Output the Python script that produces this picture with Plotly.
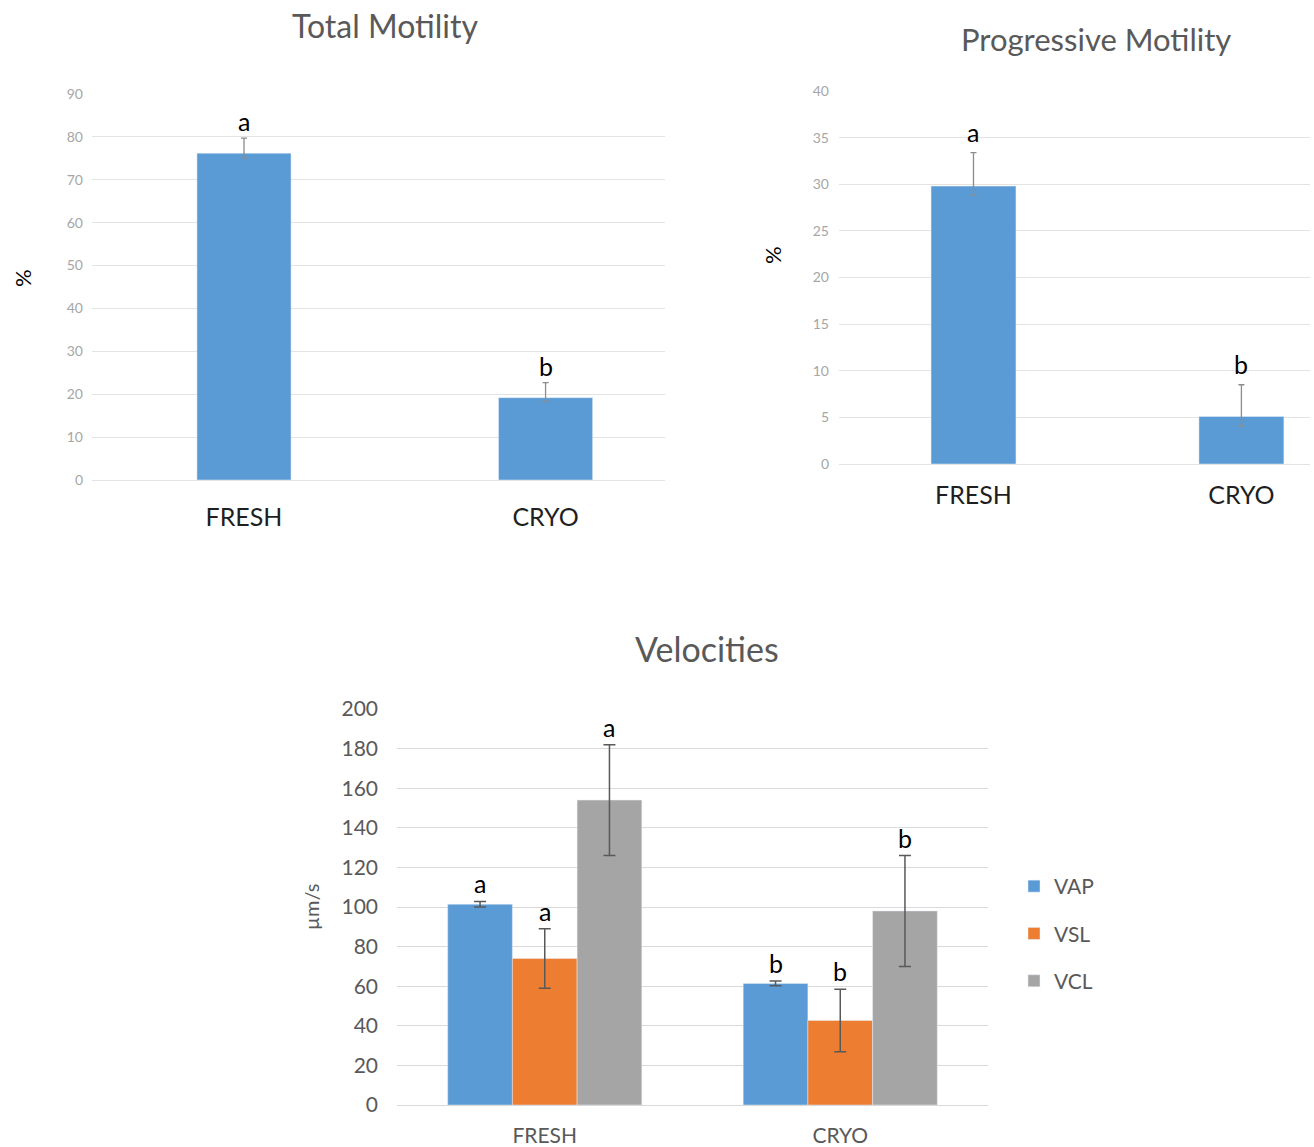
import plotly.graph_objects as go

W, H = 1314, 1147

# ---- data -------------------------------------------------------------
categories = ["FRESH", "CRYO"]

total_motility = [76.2, 19.2]
total_err_plus = [3.5, 3.5]
total_err_minus = [1.1, 0.8]
total_letters = ["a", "b"]

prog_motility = [29.8, 5.1]
prog_err_plus = [3.6, 3.4]
prog_err_minus = [1.0, 1.0]
prog_letters = ["a", "b"]

velocity_series = ["VAP", "VSL", "VCL"]
vap = [101.4, 61.4]
vsl = [74.0, 42.7]
vcl = [154.0, 98.0]
vap_err = [1.4, 1.2]
vsl_err = [15.0, 15.8]
vcl_err = [28.0, 28.0]
vap_letters = ["a", "b"]
vsl_letters = ["a", "b"]
vcl_letters = ["a", "b"]

# ---- styles -----------------------------------------------------------
FONT = "Lato"
BLUE, ORANGE, GREY = "#5B9BD5", "#ED7D31", "#A5A5A5"
TITLE_GREY = "#595959"
BAR_GAP = 0.343


def px_x(p):
    return p / W


def px_y(p):
    return 1 - p / H


fig = go.Figure()

# Total motility (top left)
fig.add_trace(go.Bar(
    x=categories, y=total_motility, width=0.312, marker_color=BLUE,
    xaxis="x", yaxis="y", showlegend=False,
    error_y=dict(type="data", symmetric=False, array=total_err_plus,
                 arrayminus=total_err_minus, color="#8c8c8c",
                 thickness=1.3, width=3),
))

# Progressive motility (top right)
fig.add_trace(go.Bar(
    x=categories, y=prog_motility, width=0.317, marker_color=BLUE,
    xaxis="x2", yaxis="y2", showlegend=False,
    error_y=dict(type="data", symmetric=False, array=prog_err_plus,
                 arrayminus=prog_err_minus, color="#8c8c8c",
                 thickness=1.3, width=3),
))

# Velocities (bottom, grouped)
vel_values = [vap, vsl, vcl]
vel_errors = [vap_err, vsl_err, vcl_err]
vel_letters = [vap_letters, vsl_letters, vcl_letters]
vel_colors = [BLUE, ORANGE, GREY]
for name, vals, errs, col in zip(velocity_series, vel_values, vel_errors, vel_colors):
    fig.add_trace(go.Bar(
        x=categories, y=vals, name=name, marker_color=col,
        xaxis="x3", yaxis="y3", legendgroup=name,
        error_y=dict(type="data", array=errs, color="#595959",
                     thickness=1.5, width=6),
    ))

# ---- significance letters --------------------------------------------
annotations = []


def letter(x, y, text, xref, yref, shift):
    annotations.append(dict(
        x=x, y=y, text=text, xref=xref, yref=yref, showarrow=False,
        yanchor="bottom", yshift=shift,
        font=dict(family=FONT, size=25, color="#000000"),
    ))


for i, cat in enumerate(categories):
    letter(i, total_motility[i] + total_err_plus[i], total_letters[i], "x", "y", 0)
    letter(i, prog_motility[i] + prog_err_plus[i], prog_letters[i], "x2", "y2", 4)

bar_w = (1 - BAR_GAP) / len(velocity_series)
for s, (vals, errs, lets) in enumerate(zip(vel_values, vel_errors, vel_letters)):
    for i in range(len(categories)):
        letter(i + (s - 1) * bar_w, vals[i] + errs[i], lets[i], "x3", "y3", 1)

# ---- titles -----------------------------------------------------------
for text, cx, cy, size in [("Total Motility", 385, 25, 32),
                           ("Progressive Motility", 1096, 39, 31),
                           ("Velocities", 707, 648, 34)]:
    annotations.append(dict(
        x=px_x(cx), y=px_y(cy), xref="paper", yref="paper", text=text,
        showarrow=False, xanchor="center", yanchor="middle",
        font=dict(family=FONT, size=size, color=TITLE_GREY),
    ))

# y-axis titles
for text, cx, cy, size, col in [("%", 22, 278, 22, "#000000"),
                                ("%", 773, 255, 22, "#000000"),
                                ("µm/s", 311, 907, 20, TITLE_GREY)]:
    annotations.append(dict(
        x=px_x(cx), y=px_y(cy), xref="paper", yref="paper", text=text,
        showarrow=False, xanchor="center", yanchor="middle", textangle=-90,
        font=dict(family=FONT, size=size, color=col),
    ))

grid_top = dict(showgrid=True, gridcolor="#e3e3e3", gridwidth=1,
                zeroline=True, zerolinecolor="#e3e3e3", zerolinewidth=1,
                showline=False, ticks="", automargin=False,
                tickfont=dict(family=FONT, size=14, color="#a6a6a6"))

fig.update_layout(
    width=W, height=H,
    margin=dict(l=0, r=0, t=0, b=0, pad=0, autoexpand=False),
    paper_bgcolor="white", plot_bgcolor="white",
    font=dict(family=FONT),
    barmode="group", bargap=BAR_GAP, bargroupgap=0,
    xaxis=dict(domain=[px_x(92), px_x(665)], anchor="y", type="category",
               range=[-0.504, 1.396], showgrid=False, zeroline=False,
               ticks="", ticklabelstandoff=20, automargin=False,
               tickfont=dict(family=FONT, size=25, color="#1f1f1f")),
    yaxis=dict(domain=[px_y(480), px_y(94)], anchor="x", range=[0, 90],
               dtick=10, ticklabelstandoff=8, **grid_top),
    xaxis2=dict(domain=[px_x(839), px_x(1310)], anchor="y2", type="category",
                range=[-0.502, 1.256], showgrid=False, zeroline=False,
                ticks="", ticklabelstandoff=14, automargin=False,
                tickfont=dict(family=FONT, size=25, color="#1f1f1f")),
    yaxis2=dict(domain=[px_y(464), px_y(91)], anchor="x2", range=[0, 40],
                dtick=5, ticklabelstandoff=9, **grid_top),
    xaxis3=dict(domain=[px_x(397), px_x(988)], anchor="y3", type="category",
                range=[-0.5, 1.5], showgrid=False, zeroline=False,
                ticks="", ticklabelstandoff=16, automargin=False,
                tickfont=dict(family=FONT, size=21, color=TITLE_GREY)),
    yaxis3=dict(domain=[px_y(1105), px_y(709)], anchor="x3", range=[0, 200],
                dtick=20, showgrid=True, gridcolor="#d9d9d9", gridwidth=1,
                zeroline=True, zerolinecolor="#d9d9d9", zerolinewidth=1,
                showline=False, ticks="", ticklabelstandoff=18,
                automargin=False,
                tickfont=dict(family=FONT, size=21, color=TITLE_GREY)),
    legend=dict(x=px_x(1014), y=px_y(866), xanchor="left", yanchor="top",
                font=dict(family=FONT, size=21, color=TITLE_GREY),
                tracegroupgap=17, bgcolor="rgba(0,0,0,0)"),
    annotations=annotations,
)

fig.write_html("out.html")
